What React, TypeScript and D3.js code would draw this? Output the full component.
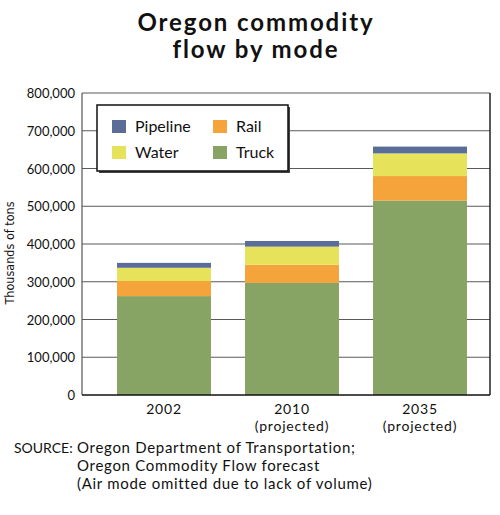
import React, { useRef, useEffect } from 'react';
import * as d3 from 'd3';

const years = ['2002', '2010', '2035'];
const subLabels = ['', '(projected)', '(projected)'];
const modes = ['Truck', 'Rail', 'Water', 'Pipeline'];
const truck = [262000, 297000, 515000];
const rail = [40000, 48000, 65000];
const water = [35000, 48000, 60000];
const pipeline = [13000, 15000, 18000];
const yTicks = [0, 100000, 200000, 300000, 400000, 500000, 600000, 700000, 800000];
const legendOrder = [['Pipeline', 'Rail'], ['Water', 'Truck']];
const sourceLines = [
  'Oregon Department of  Transportation;',
  'Oregon Commodity Flow forecast',
  '(Air mode omitted due to lack of volume)',
];

const colors: Record<string, string> = {
  Truck: '#87a465',
  Rail: '#f4a43a',
  Water: '#e6e35b',
  Pipeline: '#5a6d99',
};

const App = () => {
  const svgRef = useRef<SVGSVGElement>(null);

  useEffect(() => {
    if (!svgRef.current) return;
    const svg = d3.select(svgRef.current);
    svg.selectAll('*').remove();

    const font = 'Lato, "Open Sans", sans-serif';
    const plot = { left: 82, right: 490, top: 93, bottom: 395 };

    const y = d3.scaleLinear().domain([0, 800000]).range([plot.bottom, plot.top]);
    const x = d3.scaleBand()
      .domain(years)
      .range([100, 484])
      .paddingInner(0.266)
      .paddingOuter(0.133);

    // title
    const title = svg.append('text')
      .attr('text-anchor', 'middle')
      .style('font-family', font)
      .style('font-weight', 'bold')
      .style('font-size', '24px')
      .style('letter-spacing', '1.9px')
      .attr('fill', '#111');
    title.append('tspan').attr('x', 256).attr('y', 31).text('Oregon commodity');
    title.append('tspan').attr('x', 256).attr('y', 58).text('flow by mode');

    // gridlines
    svg.append('g')
      .selectAll('line')
      .data(yTicks.slice(1))
      .enter()
      .append('line')
      .attr('x1', plot.left)
      .attr('x2', plot.right)
      .attr('y1', d => y(d))
      .attr('y2', d => y(d))
      .attr('stroke', '#5a5a5a')
      .attr('stroke-width', 1.2);

    // frame
    svg.append('line')
      .attr('x1', plot.left).attr('x2', plot.left)
      .attr('y1', plot.top).attr('y2', plot.bottom)
      .attr('stroke', '#555').attr('stroke-width', 1.2);
    svg.append('line')
      .attr('x1', plot.right).attr('x2', plot.right)
      .attr('y1', plot.top).attr('y2', plot.bottom)
      .attr('stroke', '#222').attr('stroke-width', 1.5);

    // stacked bars
    const table = years.map((yr, i) => ({
      year: yr,
      Truck: truck[i],
      Rail: rail[i],
      Water: water[i],
      Pipeline: pipeline[i],
    }));
    const stack = d3.stack<any>().keys(modes)(table);

    svg.append('g')
      .selectAll('g')
      .data(stack)
      .enter()
      .append('g')
      .attr('fill', d => colors[d.key])
      .selectAll('rect')
      .data(d => d)
      .enter()
      .append('rect')
      .attr('x', d => x(d.data.year)!)
      .attr('width', x.bandwidth())
      .attr('y', d => y(d[1]))
      .attr('height', d => y(d[0]) - y(d[1]));

    // bottom axis line
    svg.append('line')
      .attr('x1', plot.left).attr('x2', plot.right)
      .attr('y1', plot.bottom).attr('y2', plot.bottom)
      .attr('stroke', '#111').attr('stroke-width', 1.5);

    // y tick labels
    svg.append('g')
      .selectAll('text')
      .data(yTicks)
      .enter()
      .append('text')
      .attr('x', 75)
      .attr('y', d => y(d) + 5)
      .attr('text-anchor', 'end')
      .style('font-family', font)
      .style('font-size', '13px')
      .attr('fill', '#111')
      .text(d => d3.format(',')(d));

    // y axis title
    svg.append('text')
      .attr('transform', `translate(14,${(plot.top + plot.bottom) / 2 + 9}) rotate(-90)`)
      .attr('text-anchor', 'middle')
      .style('font-family', '"DejaVu Sans Condensed", "Liberation Sans Narrow", sans-serif')
      .style('font-size', '12.5px')
      .attr('fill', '#111')
      .text('Thousands  of  tons');

    // x labels
    const xl = svg.append('g')
      .selectAll('text')
      .data(years)
      .enter()
      .append('text')
      .attr('text-anchor', 'middle')
      .style('font-family', font)
      .style('font-size', '14px')
      .style('letter-spacing', '0.8px')
      .attr('fill', '#111');
    xl.append('tspan')
      .attr('x', d => x(d)! + x.bandwidth() / 2)
      .attr('y', 414)
      .text(d => d);
    xl.append('tspan')
      .attr('x', d => x(d)! + x.bandwidth() / 2)
      .attr('y', 431)
      .text((d, i) => subLabels[i]);

    // legend
    const lg = svg.append('g');
    lg.append('rect')
      .attr('x', 99).attr('y', 107)
      .attr('width', 191).attr('height', 66)
      .attr('fill', '#444');
    lg.append('rect')
      .attr('x', 97).attr('y', 105)
      .attr('width', 191).attr('height', 66)
      .attr('fill', '#fff')
      .attr('stroke', '#111')
      .attr('stroke-width', 1.5);
    legendOrder.forEach((row, r) => {
      row.forEach((name, c) => {
        const lx = 112 + c * 101;
        const ly = 120 + r * 26;
        lg.append('rect')
          .attr('x', lx).attr('y', ly)
          .attr('width', 14).attr('height', 13)
          .attr('fill', colors[name]);
        lg.append('text')
          .attr('x', lx + 23)
          .attr('y', ly + 12)
          .style('font-family', font)
          .style('font-size', '16px')
          .attr('fill', '#111')
          .text(name);
      });
    });

    // source
    svg.append('text')
      .attr('x', 14).attr('y', 453)
      .style('font-family', font)
      .style('font-size', '14px')
      .attr('fill', '#111')
      .text('SOURCE:');
    svg.append('g')
      .selectAll('text')
      .data(sourceLines)
      .enter()
      .append('text')
      .attr('x', 77)
      .attr('y', (d, i) => 453 + i * 18)
      .style('font-family', font)
      .style('font-size', '15px')
      .style('letter-spacing', '0.7px')
      .attr('fill', '#111')
      .text(d => d);
  }, []);

  return (
    <svg
      ref={svgRef}
      width={500}
      height={515}
      style={{ position: 'absolute', left: 0, top: 0, background: 'white' }}
    />
  );
};

export default App;
